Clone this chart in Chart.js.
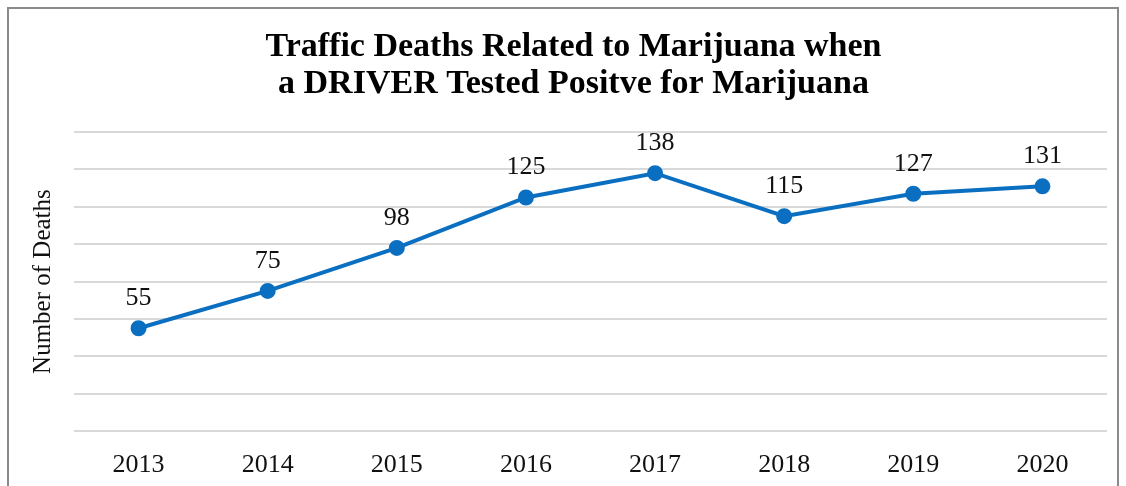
<!DOCTYPE html>
<html>
<head>
<meta charset="utf-8">
<script src="https://cdn.jsdelivr.net/npm/chart.js@4/dist/chart.umd.min.js"></script>
<style>
  body { margin: 0; background: #fff; }
  #wrap { position: relative; width: 1126px; height: 486px; overflow: hidden; }
  #frame { position: absolute; left: 7px; top: 7px; width: 1112px; height: 490px; border: 2px solid #8a8a8a; box-sizing: border-box; }
  #chart { position: absolute; left: 0; top: 0; }
</style>
</head>
<body>
<div id="wrap">
  <div id="frame"></div>
  <canvas id="chart" width="1126" height="486"></canvas>
</div>
<script>
// data
var years = ["2013", "2014", "2015", "2016", "2017", "2018", "2019", "2020"];
var deaths = [55, 75, 98, 125, 138, 115, 127, 131];

var titleLines = ["Traffic Deaths Related to Marijuana when", "a DRIVER Tested Positve for Marijuana"];
var yTitle = "Number of Deaths";

var serif = "'Liberation Serif', 'DejaVu Serif', serif";
var blue = "#0b6fc1";

// draws the value above every point
var valueLabels = {
  id: "valueLabels",
  afterDatasetsDraw: function(chart) {
    var ctx = chart.ctx;
    var meta = chart.getDatasetMeta(0);
    ctx.save();
    ctx.font = "26px " + serif;
    ctx.fillStyle = "#111";
    ctx.textAlign = "center";
    ctx.textBaseline = "middle";
    for (var i = 0; i < meta.data.length; i++) {
      var pt = meta.data[i];
      ctx.fillText(String(deaths[i]), pt.x, pt.y - 30);
    }
    ctx.restore();
  }
};

var ctx = document.getElementById("chart");
var myChart = new Chart(ctx, {
  type: "line",
  data: {
    labels: years,
    datasets: [{
      data: deaths,
      borderColor: blue,
      backgroundColor: blue,
      borderWidth: 4,
      pointRadius: 6,
      pointHoverRadius: 6,
      tension: 0
    }]
  },
  options: {
    responsive: false,
    animation: false,
    layout: { padding: { left: 40, right: 19, top: 29, bottom: 0 } },
    plugins: {
      legend: { display: false },
      tooltip: { enabled: false },
      title: {
        display: true,
        text: titleLines,
        color: "#000",
        font: { family: serif, size: 34, weight: "bold", lineHeight: 1.09 },
        padding: { top: 0, bottom: 29 }
      }
    },
    scales: {
      x: {
        offset: true,
        grid: { display: false, drawTicks: false },
        border: { display: false },
        ticks: { color: "#111", font: { family: serif, size: 26 }, padding: 19 },
        afterFit: function(scale) { scale.height = 55; }
      },
      y: {
        min: 0,
        max: 160,
        ticks: { display: false, stepSize: 20 },
        grid: { color: "#d9d9d9", lineWidth: 2, drawTicks: false },
        border: { display: false },
        title: {
          display: true,
          text: yTitle,
          color: "#111",
          font: { family: serif, size: 25 },
          padding: { top: -12, bottom: 0 }
        },
        afterFit: function(scale) { scale.width = 34; }
      }
    }
  },
  plugins: [valueLabels]
});
</script>
</body>
</html>
